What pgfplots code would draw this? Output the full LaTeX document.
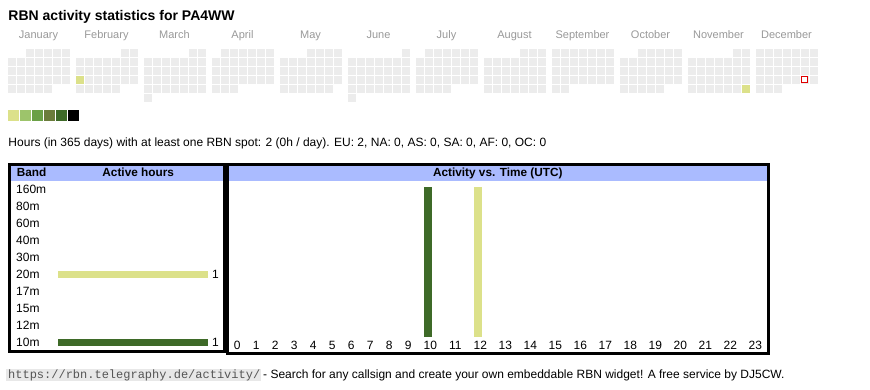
\documentclass[border=0pt]{standalone}
\usepackage{fontspec}
\setmainfont{Liberation Sans}
\setmonofont{Liberation Mono}
\usepackage{pgfplots}
\usepackage{pgfplotstable}
\pgfplotsset{compat=1.18}
\definecolor{lvlA}{HTML}{DCE18A}
\definecolor{lvlB}{HTML}{9DC46B}
\definecolor{lvlC}{HTML}{6AA046}
\definecolor{lvlD}{HTML}{6B7C3B}
\definecolor{lvlE}{HTML}{3E6A28}
\definecolor{lvlF}{HTML}{000000}
\definecolor{cellgray}{HTML}{ECECEC}
\definecolor{hdrblue}{HTML}{AABBFF}
\definecolor{monthgray}{HTML}{999999}
\definecolor{todayred}{HTML}{E00000}
\definecolor{footbg}{HTML}{E8E8E8}
\definecolor{urlgray}{HTML}{555555}

% calendar 2025: month, week row, weekday column (Mon=0)
\pgfplotstableread[row sep=\\]{
m r c\\
1 0 2\\1 0 3\\1 0 4\\1 0 5\\1 0 6\\
1 1 0\\1 1 1\\1 1 2\\1 1 3\\1 1 4\\1 1 5\\1 1 6\\
1 2 0\\1 2 1\\1 2 2\\1 2 3\\1 2 4\\1 2 5\\1 2 6\\
1 3 0\\1 3 1\\1 3 2\\1 3 3\\1 3 4\\1 3 5\\1 3 6\\
1 4 0\\1 4 1\\1 4 2\\1 4 3\\1 4 4\\
2 0 5\\2 0 6\\
2 1 0\\2 1 1\\2 1 2\\2 1 3\\2 1 4\\2 1 5\\2 1 6\\
2 2 0\\2 2 1\\2 2 2\\2 2 3\\2 2 4\\2 2 5\\2 2 6\\
2 3 0\\2 3 1\\2 3 2\\2 3 3\\2 3 4\\2 3 5\\2 3 6\\
2 4 0\\2 4 1\\2 4 2\\2 4 3\\2 4 4\\
3 0 5\\3 0 6\\
3 1 0\\3 1 1\\3 1 2\\3 1 3\\3 1 4\\3 1 5\\3 1 6\\
3 2 0\\3 2 1\\3 2 2\\3 2 3\\3 2 4\\3 2 5\\3 2 6\\
3 3 0\\3 3 1\\3 3 2\\3 3 3\\3 3 4\\3 3 5\\3 3 6\\
3 4 0\\3 4 1\\3 4 2\\3 4 3\\3 4 4\\3 4 5\\3 4 6\\
3 5 0\\
4 0 1\\4 0 2\\4 0 3\\4 0 4\\4 0 5\\4 0 6\\
4 1 0\\4 1 1\\4 1 2\\4 1 3\\4 1 4\\4 1 5\\4 1 6\\
4 2 0\\4 2 1\\4 2 2\\4 2 3\\4 2 4\\4 2 5\\4 2 6\\
4 3 0\\4 3 1\\4 3 2\\4 3 3\\4 3 4\\4 3 5\\4 3 6\\
4 4 0\\4 4 1\\4 4 2\\
5 0 3\\5 0 4\\5 0 5\\5 0 6\\
5 1 0\\5 1 1\\5 1 2\\5 1 3\\5 1 4\\5 1 5\\5 1 6\\
5 2 0\\5 2 1\\5 2 2\\5 2 3\\5 2 4\\5 2 5\\5 2 6\\
5 3 0\\5 3 1\\5 3 2\\5 3 3\\5 3 4\\5 3 5\\5 3 6\\
5 4 0\\5 4 1\\5 4 2\\5 4 3\\5 4 4\\5 4 5\\
6 0 6\\
6 1 0\\6 1 1\\6 1 2\\6 1 3\\6 1 4\\6 1 5\\6 1 6\\
6 2 0\\6 2 1\\6 2 2\\6 2 3\\6 2 4\\6 2 5\\6 2 6\\
6 3 0\\6 3 1\\6 3 2\\6 3 3\\6 3 4\\6 3 5\\6 3 6\\
6 4 0\\6 4 1\\6 4 2\\6 4 3\\6 4 4\\6 4 5\\6 4 6\\
6 5 0\\
7 0 1\\7 0 2\\7 0 3\\7 0 4\\7 0 5\\7 0 6\\
7 1 0\\7 1 1\\7 1 2\\7 1 3\\7 1 4\\7 1 5\\7 1 6\\
7 2 0\\7 2 1\\7 2 2\\7 2 3\\7 2 4\\7 2 5\\7 2 6\\
7 3 0\\7 3 1\\7 3 2\\7 3 3\\7 3 4\\7 3 5\\7 3 6\\
7 4 0\\7 4 1\\7 4 2\\7 4 3\\
8 0 4\\8 0 5\\8 0 6\\
8 1 0\\8 1 1\\8 1 2\\8 1 3\\8 1 4\\8 1 5\\8 1 6\\
8 2 0\\8 2 1\\8 2 2\\8 2 3\\8 2 4\\8 2 5\\8 2 6\\
8 3 0\\8 3 1\\8 3 2\\8 3 3\\8 3 4\\8 3 5\\8 3 6\\
8 4 0\\8 4 1\\8 4 2\\8 4 3\\8 4 4\\8 4 5\\8 4 6\\
9 0 0\\9 0 1\\9 0 2\\9 0 3\\9 0 4\\9 0 5\\9 0 6\\
9 1 0\\9 1 1\\9 1 2\\9 1 3\\9 1 4\\9 1 5\\9 1 6\\
9 2 0\\9 2 1\\9 2 2\\9 2 3\\9 2 4\\9 2 5\\9 2 6\\
9 3 0\\9 3 1\\9 3 2\\9 3 3\\9 3 4\\9 3 5\\9 3 6\\
9 4 0\\9 4 1\\
10 0 2\\10 0 3\\10 0 4\\10 0 5\\10 0 6\\
10 1 0\\10 1 1\\10 1 2\\10 1 3\\10 1 4\\10 1 5\\10 1 6\\
10 2 0\\10 2 1\\10 2 2\\10 2 3\\10 2 4\\10 2 5\\10 2 6\\
10 3 0\\10 3 1\\10 3 2\\10 3 3\\10 3 4\\10 3 5\\10 3 6\\
10 4 0\\10 4 1\\10 4 2\\10 4 3\\10 4 4\\
11 0 5\\11 0 6\\
11 1 0\\11 1 1\\11 1 2\\11 1 3\\11 1 4\\11 1 5\\11 1 6\\
11 2 0\\11 2 1\\11 2 2\\11 2 3\\11 2 4\\11 2 5\\11 2 6\\
11 3 0\\11 3 1\\11 3 2\\11 3 3\\11 3 4\\11 3 5\\11 3 6\\
11 4 0\\11 4 1\\11 4 2\\11 4 3\\11 4 4\\11 4 5\\11 4 6\\
12 0 0\\12 0 1\\12 0 2\\12 0 3\\12 0 4\\12 0 5\\12 0 6\\
12 1 0\\12 1 1\\12 1 2\\12 1 3\\12 1 4\\12 1 5\\12 1 6\\
12 2 0\\12 2 1\\12 2 2\\12 2 3\\12 2 4\\12 2 5\\12 2 6\\
12 3 0\\12 3 1\\12 3 2\\12 3 3\\12 3 4\\12 3 5\\12 3 6\\
12 4 0\\12 4 1\\12 4 2\\
}\calcells

% active days (1 hour each): Feb 17, Nov 30
\pgfplotstableread[row sep=\\]{
m r c\\
2 3 0\\
11 4 6\\
}\activedays

% current day: Dec 27
\pgfplotstableread[row sep=\\]{
m r c\\
12 3 5\\
}\currentday

% activity vs hour (UTC)
\pgfplotstableread[row sep=\\]{
h n\\
10 1\\
}\hoursTen
\pgfplotstableread[row sep=\\]{
h n\\
12 1\\
}\hoursTwenty

\begin{document}
\begin{tikzpicture}
\path[use as bounding box] (0pt,0pt) rectangle (870pt,-390pt);
\fill[white] (0pt,0pt) rectangle (870pt,-390pt);

% ---------- calendar heatmap ----------
\begin{axis}[at={(0pt,0pt)}, anchor=north west, scale only axis,
  width=870pt, height=130pt, xmin=0, xmax=870, ymin=0, ymax=130,
  y dir=reverse, hide axis, clip=false]
\addplot[only marks, mark=square*, color=cellgray, mark size=3.4pt,
  mark options={line width=0.2pt}]
  table[x expr={11.5+68*(\thisrow{m}-1)+9*\thisrow{c}}, y expr={52.5+9*\thisrow{r}}]{\calcells};
\addplot[only marks, mark=square*, color=lvlA, mark size=3.4pt,
  mark options={line width=0.2pt}]
  table[x expr={11.5+68*(\thisrow{m}-1)+9*\thisrow{c}}, y expr={52.5+9*\thisrow{r}}]{\activedays};
\addplot[only marks, mark=square*, mark size=3pt,
  mark options={draw=todayred, fill=white, line width=1pt}]
  table[x expr={11.5+68*(\thisrow{m}-1)+9*\thisrow{c}}, y expr={52.5+9*\thisrow{r}}]{\currentday};
% colour legend
\addplot[only marks, mark=square*, color=lvlA, mark size=4.9pt, mark options={line width=0.2pt}] coordinates {(13,115.3)};
\addplot[only marks, mark=square*, color=lvlB, mark size=4.9pt, mark options={line width=0.2pt}] coordinates {(25,115.3)};
\addplot[only marks, mark=square*, color=lvlC, mark size=4.9pt, mark options={line width=0.2pt}] coordinates {(37,115.3)};
\addplot[only marks, mark=square*, color=lvlD, mark size=4.9pt, mark options={line width=0.2pt}] coordinates {(49,115.3)};
\addplot[only marks, mark=square*, color=lvlE, mark size=4.9pt, mark options={line width=0.2pt}] coordinates {(61,115.3)};
\addplot[only marks, mark=square*, color=lvlF, mark size=4.9pt, mark options={line width=0.2pt}] coordinates {(73,115.3)};
\end{axis}

% ---------- band / active hours ----------
\begin{axis}[at={(58pt,-180.8pt)}, anchor=north west, scale only axis,
  width=150pt, height=170.4pt, xmin=0, xmax=1, ymin=-0.5, ymax=9.5,
  y dir=reverse, axis line style={draw=none}, major tick length=0pt,
  xtick=\empty, ytick={0,1,2,3,4,5,6,7,8,9},
  yticklabels={160m,80m,60m,40m,30m,20m,17m,15m,12m,10m},
  yticklabel style={anchor=west, inner sep=0pt, xshift=-42pt, font=\fontsize{12}{14}\selectfont},
  clip=false, /pgf/number format/assume math mode=true,
  point meta=x, nodes near coords,
  nodes near coords style={anchor=west, inner sep=0pt, xshift=4pt, font=\fontsize{12}{14}\selectfont}]
\addplot[xbar, fill=lvlA, draw=none, bar width=6.5pt, bar shift=0pt] coordinates {(1,5)};
\addplot[xbar, fill=lvlE, draw=none, bar width=6.5pt, bar shift=0pt] coordinates {(1,9)};
\end{axis}

% ---------- activity vs time ----------
\begin{axis}[at={(229pt,-336.7pt)}, anchor=south west, scale only axis,
  width=538pt, height=149.4pt, xmin=-5.9, xmax=532.1, ymin=0, ymax=1,
  axis line style={draw=none}, major tick length=0pt, ytick=\empty,
  xtick={0,19,38,57,76,95,114,133,152,171,193,218,243,268,293,318,343,368,393,418,443,468,493,518},
  xticklabels={0,1,2,3,4,5,6,7,8,9,10,11,12,13,14,15,16,17,18,19,20,21,22,23},
  xticklabel style={anchor=base, inner sep=0pt, yshift=-12.6pt, xshift=2.4pt, font=\fontsize{12}{14}\selectfont},
  clip=false]
\addplot[ybar, fill=lvlE, draw=none, bar width=8pt, bar shift=0pt]
  table[x expr={ifthenelse(\thisrow{h}<10,19*\thisrow{h},193+25*(\thisrow{h}-10))}, y=n]{\hoursTen};
\addplot[ybar, fill=lvlA, draw=none, bar width=8pt, bar shift=0pt]
  table[x expr={ifthenelse(\thisrow{h}<10,19*\thisrow{h},193+25*(\thisrow{h}-10))}, y=n]{\hoursTwenty};
\end{axis}

% ---------- frames and text ----------
\begin{scope}[x=1pt,y=-1pt]
\fill[hdrblue] (11.3,166.3) rectangle (222.7,180.7);
\fill[hdrblue] (229,166.3) rectangle (767,180.7);
\draw[line width=3pt] (9.8,164.8) rectangle (224.2,351.2);
\draw[line width=3pt] (227.5,164.8) rectangle (768.5,353.8);

\node[anchor=base west, inner sep=0pt, font=\bfseries\fontsize{14}{16}\selectfont] at (8.3,20.7) {RBN activity statistics for PA4WW};

\begin{scope}[every node/.style={anchor=base, inner sep=0pt, text=monthgray, font=\fontsize{11}{13}\selectfont}]
\node at (38.5,39) {January};
\node at (106.5,39) {February};
\node at (174.5,39) {March};
\node at (242.5,39) {April};
\node at (310.5,39) {May};
\node at (378.5,39) {June};
\node at (446.5,39) {July};
\node at (514.5,39) {August};
\node at (582.5,39) {September};
\node at (650.5,39) {October};
\node at (718.5,39) {November};
\node at (786.5,39) {December};
\end{scope}

\node[anchor=base west, inner sep=0pt, font=\fontsize{12}{14}\selectfont] at (8.3,147) {Hours (in 365 days) with at least one RBN spot: 2 (0h / day). EU: 2, NA: 0, AS: 0, SA: 0, AF: 0, OC: 0};

\node[anchor=base west, inner sep=0pt, font=\bfseries\fontsize{11.8}{14}\selectfont] at (16.7,176.7) {Band};
\node[anchor=base, inner sep=0pt, font=\bfseries\fontsize{11.8}{14}\selectfont] at (138.2,176.7) {Active hours};
\node[anchor=base, inner sep=0pt, font=\bfseries\fontsize{11.8}{14}\selectfont] at (497.8,177) {Activity vs. Time (UTC)};

\fill[footbg] (6,368.5) rectangle (260.5,380.5);
\node[anchor=base west, inner sep=0pt, text=urlgray, font=\ttfamily\fontsize{12}{14}\selectfont] at (8,378) {https://rbn.telegraphy.de/activity/};
\node[anchor=base west, inner sep=0pt, font=\fontsize{12}{14}\selectfont] at (263,378) {- Search for any callsign and create your own embeddable RBN widget! A free service by DJ5CW.};
\end{scope}
\end{tikzpicture}
\end{document}
